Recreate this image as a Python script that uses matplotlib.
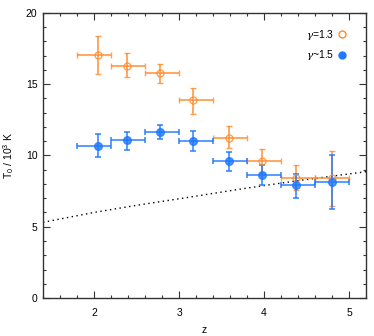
import numpy as np
import matplotlib
matplotlib.use("Agg")
import matplotlib.pyplot as plt
from matplotlib.lines import Line2D
from matplotlib.ticker import MultipleLocator

plt.rcParams["font.family"] = ["Liberation Sans", "DejaVu Sans"]
plt.rcParams["mathtext.fontset"] = "custom"
plt.rcParams["mathtext.rm"] = "Liberation Sans"
plt.rcParams["mathtext.it"] = "DejaVu Serif:italic"

# redshift bins
z = np.array([2.05, 2.39, 2.78, 3.16, 3.59, 3.98, 4.37, 4.80])
z_lo = np.array([1.8, 2.2, 2.6, 3.0, 3.4, 3.8, 4.2, 4.6])
z_hi = np.array([2.2, 2.6, 3.0, 3.4, 3.8, 4.2, 4.6, 5.0])

# gamma = 1.3 (open orange)
t13 = np.array([17.04, 16.3, 15.75, 13.85, 11.24, 9.63, 8.42, 8.40])
t13_up = np.array([18.34, 17.18, 16.4, 14.7, 12.03, 10.47, 9.35, 10.28])
t13_dn = np.array([15.7, 15.47, 15.1, 12.92, 10.54, 8.8, 7.6, 6.45])

# gamma ~ 1.5 (filled blue)
t15 = np.array([10.65, 11.1, 11.63, 10.98, 9.58, 8.65, 7.95, 8.11])
t15_up = np.array([11.5, 11.63, 12.12, 11.68, 10.23, 9.35, 8.72, 10.0])
t15_dn = np.array([9.88, 10.4, 11.14, 10.28, 8.9, 7.9, 7.0, 6.27])

# dotted reference curve
zc = np.array([1.4, 2.0, 2.5, 3.1, 3.7, 4.4, 5.2])
tc = np.array([5.31, 6.0, 6.5, 7.05, 7.62, 8.23, 8.86])

orange = "#ff8a2a"
blue = "#1f78ff"

fig = plt.figure(figsize=(3.74, 3.36), dpi=100)
ax = fig.add_axes([0.115, 0.113, 0.864, 0.849])

ax.plot(zc, tc, color="black", lw=1.0, ls=(0, (1, 2.5)))

ax.errorbar(z, t13, xerr=[z - z_lo, z_hi - z], yerr=[t13 - t13_dn, t13_up - t13],
            fmt="o", mfc="none", mec=orange, mew=1.0, ms=5, ecolor=orange,
            elinewidth=1.3, capsize=2, capthick=1.3, alpha=0.8)
ax.errorbar(z, t15, xerr=[z - z_lo, z_hi - z], yerr=[t15 - t15_dn, t15_up - t15],
            fmt="o", mfc=blue, mec=blue, ms=5.5, ecolor=blue,
            elinewidth=1.3, capsize=2, capthick=1.3, alpha=0.8)

ax.set_xlim(1.4, 5.2)
ax.set_ylim(0, 20)
ax.xaxis.set_major_locator(MultipleLocator(1))
ax.xaxis.set_minor_locator(MultipleLocator(0.2))
ax.yaxis.set_major_locator(MultipleLocator(5))
ax.yaxis.set_minor_locator(MultipleLocator(1))
ax.tick_params(which="both", direction="in", top=True, right=True, labelsize=7.5,
               color="#333333", width=0.8)
ax.tick_params(which="major", length=5)
ax.tick_params(axis="x", which="major", pad=7)
ax.tick_params(axis="y", which="major", pad=4)
ax.tick_params(which="minor", length=2.5)
for s in ax.spines.values():
    s.set_color("#333333")
    s.set_linewidth(1.0)

ax.set_xlabel("z", fontsize=7.5, labelpad=5)
ax.set_ylabel(r"T$_0$ / 10$^3$ K", fontsize=7.5, labelpad=7)

handles = [
    Line2D([], [], ls="none", marker="o", mfc="none", mec=orange, mew=1.0, ms=5),
    Line2D([], [], ls="none", marker="o", mfc=blue, mec=blue, ms=5),
]
ax.legend(handles, [r"$\gamma$=1.3", r"$\gamma$~1.5"], loc="upper right",
          bbox_to_anchor=(1.0, 1.021), frameon=False, markerfirst=False,
          fontsize=7.5, handlelength=0.6, handletextpad=0.5, labelspacing=0.65,
          borderaxespad=1.6)

fig.savefig("out.png", dpi=100)
